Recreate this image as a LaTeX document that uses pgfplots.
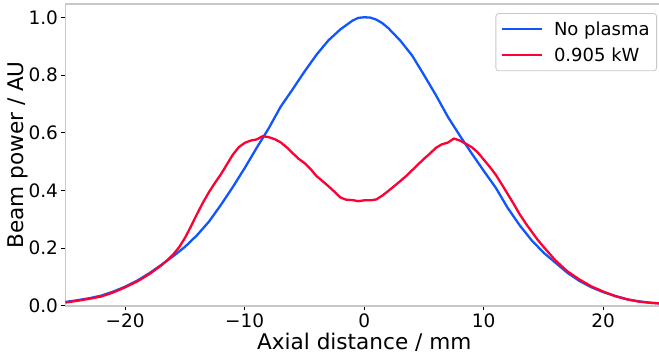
\documentclass[border=0pt]{standalone}
\usepackage{pgfplots}
\pgfplotsset{compat=1.18}
\usepackage{pgfplotstable}
\usepackage{fontspec}
\setmainfont{DejaVu Sans}
\definecolor{cblue}{RGB}{17,85,255}
\definecolor{cred}{RGB}{255,0,51}
\definecolor{spine}{RGB}{200,200,200}
\pgfplotstableread{
x y
-25 0.014
-24 0.020
-23 0.027
-22 0.036
-21 0.050
-20 0.067
-19 0.088
-18 0.113
-17 0.142
-16 0.172
-15 0.205
-14 0.245
-13 0.292
-12 0.350
-11 0.412
-10 0.478
-9 0.548
-8 0.615
-7 0.690
-6 0.750
-5 0.812
-4 0.870
-3 0.920
-2 0.958
-1 0.988
-0.5 0.998
0 1.000
0.5 0.999
1 0.992
1.5 0.980
2 0.963
3 0.920
4 0.868
5 0.800
6 0.730
7 0.655
8 0.590
9 0.528
10 0.468
11 0.410
12 0.340
13 0.280
14 0.228
15 0.185
16 0.150
17 0.115
18 0.087
19 0.065
20 0.048
21 0.035
22 0.023
23 0.016
24 0.011
25 0.008
}\blue
\pgfplotstableread{
x y
-25 0.012
-24 0.018
-23 0.025
-22 0.033
-21 0.047
-20 0.065
-19 0.085
-18 0.110
-17 0.140
-16.5 0.158
-16 0.178
-15.5 0.203
-15 0.236
-14.5 0.276
-14 0.318
-13.5 0.358
-13 0.394
-12.5 0.426
-12 0.456
-11.5 0.490
-11 0.524
-10.5 0.550
-10 0.565
-9.5 0.573
-9 0.577
-8.5 0.588
-8 0.585
-7.5 0.578
-7 0.567
-6.5 0.550
-6 0.530
-5.5 0.510
-5 0.495
-4.5 0.475
-4 0.450
-3.5 0.433
-3 0.415
-2.5 0.396
-2 0.376
-1.5 0.368
-1 0.367
-0.5 0.363
0 0.366
0.5 0.366
1 0.369
1.5 0.382
2 0.398
2.5 0.415
3 0.432
3.5 0.450
4 0.470
4.5 0.490
5 0.510
5.5 0.528
6 0.548
6.5 0.560
7 0.566
7.5 0.580
8 0.573
8.5 0.562
9 0.550
9.5 0.532
10 0.507
10.5 0.482
11 0.455
11.5 0.422
12 0.388
12.5 0.354
13 0.318
13.5 0.287
14 0.258
14.5 0.230
15 0.205
16 0.158
17 0.120
18 0.092
19 0.068
20 0.050
21 0.034
22 0.023
23 0.015
24 0.011
25 0.008
}\red
\begin{document}
\begin{tikzpicture}
\useasboundingbox (0,0) rectangle (659pt,358pt);
\begin{axis}[
  at={(65.5pt,52pt)}, anchor=south west,
  scale only axis, width=597.5pt, height=302pt,
  xmin=-25, xmax=25, ymin=0, ymax=1.046,
  xtick={-20,-10,0,10,20},
  xticklabels={−20,−10,0,10,20},
  ytick={0,0.2,0.4,0.6,0.8,1.0},
  yticklabel style={/pgf/number format/fixed,/pgf/number format/fixed zerofill,/pgf/number format/precision=1},
  /pgf/number format/assume math mode=true,
  tick pos=left, tick align=outside,
  major tick length=4pt,
  every tick/.style={black, line width=1pt},
  axis line style={spine, line width=1.3pt},
  ticklabel style={font=\fontsize{18.5}{22}\selectfont},
  xlabel={Axial distance / mm},
  ylabel={Beam power / AU},
  label style={font=\fontsize{21.6}{26}\selectfont},
  xlabel style={at={(0.5,0)}, anchor=north, yshift=-24pt},
  ylabel style={at={(0,0.5)}, anchor=south, yshift=34pt},
  legend style={at={(0.99,0.970)}, anchor=north east, draw=spine, line width=0.8pt, rounded corners=3pt, fill=white,
    font=\fontsize{18}{21}\selectfont, row sep=7pt, inner xsep=5pt, inner ysep=6pt,
    nodes={inner sep=2pt}},
  legend cell align=left,
  legend image code/.code={\draw[#1] (0pt,0pt) -- (40pt,0pt); \path[draw=none,fill=none] (40pt,0pt) -- (50pt,0pt);},
]
\addplot[cblue, line width=2.3pt] table[x=x,y=y] {\blue};
\addlegendentry{No plasma}
\addplot[cred, line width=2.3pt] table[x=x,y=y] {\red};
\addlegendentry{0.905 kW}
\end{axis}
\end{tikzpicture}
\end{document}
